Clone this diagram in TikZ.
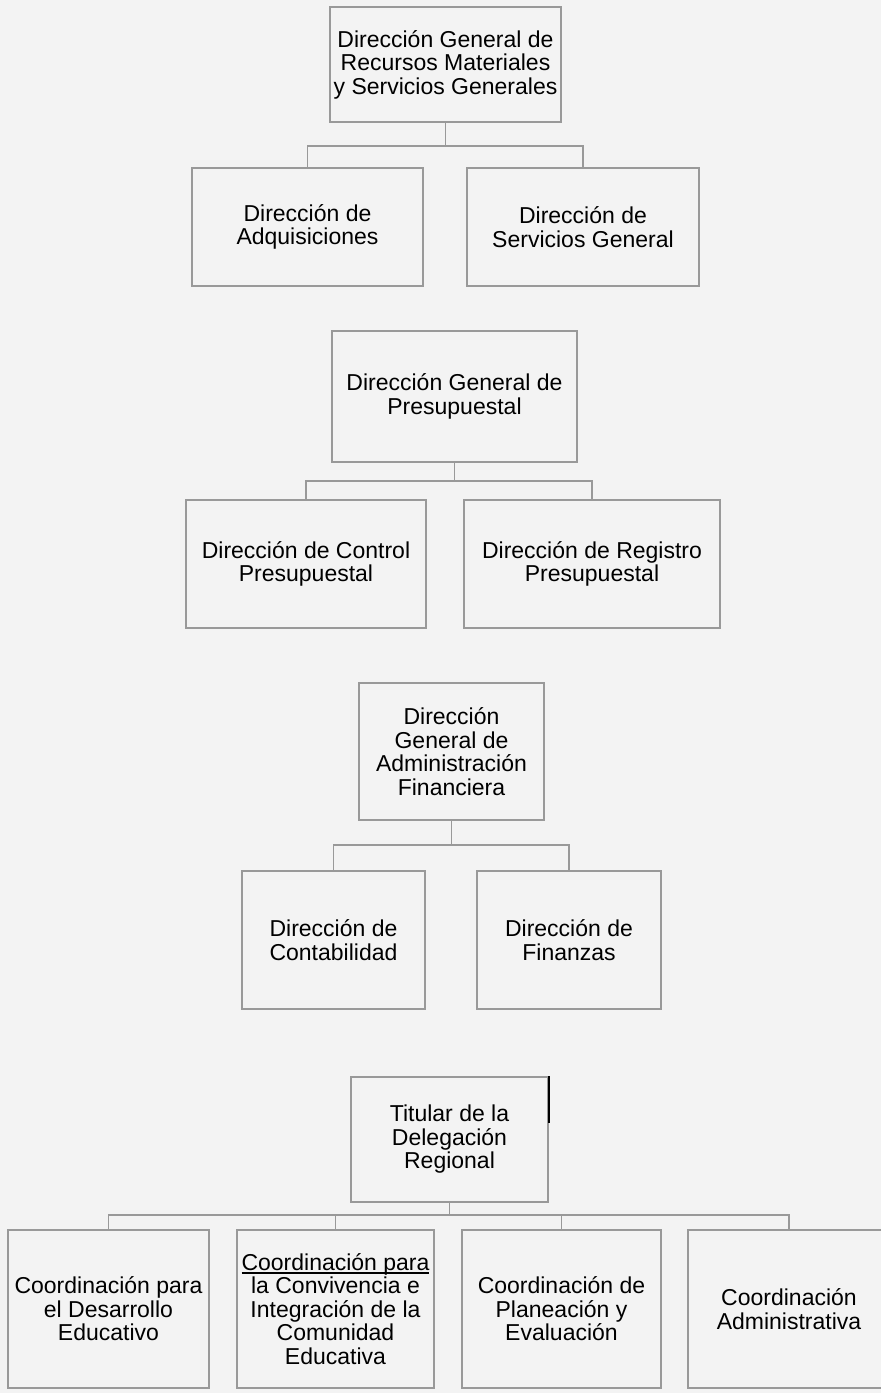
\documentclass[tikz,border=0pt]{standalone}
\usepackage{fontspec}
\setmainfont{Liberation Sans}
\usetikzlibrary{calc}
\definecolor{bg}{HTML}{F3F3F3}
\definecolor{ln}{HTML}{999999}
\newcommand\myul[1]{\setbox0\hbox{#1}\rlap{\rule[-3.5pt]{\wd0}{2pt}}\box0}
\tikzset{
  box/.style={draw=ln, line width=1.6pt, fill=none, rectangle, inner sep=0pt, align=center,
    font=\fontsize{23}{23.5}\selectfont, text=black},
  conn/.style={draw=ln, line width=1.6pt}
}
\begin{document}
\begin{tikzpicture}[x=1pt,y=-1pt]
\useasboundingbox (0,0) rectangle (881,1393);
\fill[bg] (0,0) rectangle (881,1393);
\clip (0,0) rectangle (881,1393);

% Group A
\node[box, minimum width=231pt, minimum height=115pt] (A) at (445.5,64.5) {Dirección General de\\Recursos Materiales\\y Servicios Generales};
\node[box, minimum width=231pt, minimum height=118pt] (A1) at (307.5,227) {Dirección de\\Adquisiciones};
\node[box, minimum width=232pt, minimum height=118pt] (A2) at (583,227) {Dirección de\\Servicios General};
\coordinate (ab) at (445.5,146);
\draw[conn] (A.south) -- (ab);
\draw[conn] (A1.north) |- (ab) -| (A2.north);

% Group B
\node[box, minimum width=245pt, minimum height=131pt] (B) at (454.5,396.5) {Dirección General de\\Presupuestal};
\node[box, minimum width=240pt, minimum height=128pt] (B1) at (306,564) {Dirección de Control\\Presupuestal};
\node[box, minimum width=256pt, minimum height=128pt] (B2) at (592,564) {Dirección de Registro\\Presupuestal};
\coordinate (bb) at (454.5,481);
\draw[conn] (B.south) -- (bb);
\draw[conn] (B1.north) |- (bb) -| (B2.north);

% Group C
\node[box, minimum width=185pt, minimum height=137pt] (C) at (451.5,751.5) {Dirección\\General de\\Administración\\Financiera};
\node[box, minimum width=183pt, minimum height=138pt] (C1) at (333.5,940) {Dirección de\\Contabilidad};
\node[box, minimum width=184pt, minimum height=138pt] (C2) at (569,940) {Dirección de\\Finanzas};
\coordinate (cb) at (451.5,845);
\draw[conn] (C.south) -- (cb);
\draw[conn] (C1.north) |- (cb) -| (C2.north);

% Group D
\node[box, minimum width=197pt, minimum height=125pt] (D) at (449.5,1139.5) {Titular de la\\Delegación\\Regional};
\node[box, minimum width=201pt, minimum height=158pt] (D1) at (108.5,1309) {Coordinación para\\el Desarrollo\\Educativo};
\node[box, minimum width=197pt, minimum height=158pt] (D2) at (335.5,1309) {\myul{Coordinación para}\\la Convivencia e\\Integración de la\\Comunidad\\Educativa};
\node[box, minimum width=199pt, minimum height=158pt] (D3) at (561.5,1309) {Coordinación de\\Planeación y\\Evaluación};
\node[box, minimum width=202pt, minimum height=158pt] (D4) at (789,1309) {Coordinación\\Administrativa};
\coordinate (db) at (449.5,1215);
\draw[conn] (D.south) -- (db);
\draw[conn] (D1.north) |- (db) -| (D4.north);
\draw[conn] (D2.north) -- (D2.north |- db);
\draw[conn] (D3.north) -- (D3.north |- db);
\draw[black, line width=1.5pt] (D.north east) -- ++(0,47);
\end{tikzpicture}
\end{document}
